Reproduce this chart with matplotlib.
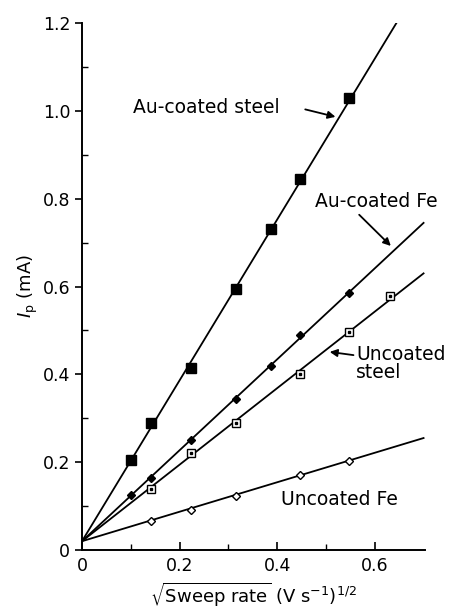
import matplotlib
matplotlib.use("Agg")
import matplotlib.pyplot as plt
import numpy as np

# sqrt(sweep rate) values
x_au_steel = [0.100, 0.141, 0.224, 0.316, 0.387, 0.447, 0.548]
y_au_steel = [0.205, 0.290, 0.415, 0.595, 0.730, 0.845, 1.030]

x_au_fe = [0.100, 0.141, 0.224, 0.316, 0.387, 0.447, 0.548]
y_au_fe = [0.125, 0.165, 0.250, 0.345, 0.420, 0.490, 0.585]

x_unc_steel = [0.141, 0.224, 0.316, 0.447, 0.548, 0.632]
y_unc_steel = [0.140, 0.220, 0.290, 0.400, 0.497, 0.578]

x_unc_fe = [0.141, 0.224, 0.316, 0.447, 0.548]
y_unc_fe = [0.065, 0.092, 0.122, 0.170, 0.202]

# fitted straight lines (start, end)
fit_au_steel_x = [0.0, 0.647]
fit_au_steel_y = [0.02, 1.205]
fit_au_fe_x = [0.0, 0.70]
fit_au_fe_y = [0.02, 0.745]
fit_unc_steel_x = [0.0, 0.70]
fit_unc_steel_y = [0.02, 0.630]
fit_unc_fe_x = [0.0, 0.70]
fit_unc_fe_y = [0.02, 0.255]

fig = plt.figure(figsize=(4.58, 6.08), dpi=100)
ax = fig.add_axes([0.179, 0.0954, 0.749, 0.8666])

lw = 1.3
ax.plot(fit_au_steel_x, fit_au_steel_y, color="k", lw=lw)
ax.plot(fit_au_fe_x, fit_au_fe_y, color="k", lw=lw)
ax.plot(fit_unc_steel_x, fit_unc_steel_y, color="k", lw=lw)
ax.plot(fit_unc_fe_x, fit_unc_fe_y, color="k", lw=lw)

ax.plot(x_au_steel, y_au_steel, "s", color="k", ms=6.5, zorder=3)
ax.plot(x_au_fe, y_au_fe, "D", color="k", ms=4.5, zorder=3)
ax.plot(x_unc_steel, y_unc_steel, "s", mfc="white", mec="k", mew=1.0, ms=6, zorder=3)
ax.plot(x_unc_steel, y_unc_steel, "s", color="k", ms=1.5, zorder=4)
ax.plot(x_unc_fe, y_unc_fe, "D", mfc="white", mec="k", mew=1.0, ms=4.5, zorder=3)

fs = 13.5
arr = dict(arrowstyle="-|>", color="k", lw=1.3, mutation_scale=11)
ax.text(0.105, 1.007, "Au-coated steel", fontsize=fs, va="center", ha="left")
ax.annotate("", xy=(0.525, 0.985), xytext=(0.452, 1.005), arrowprops=arr)
ax.text(0.477, 0.793, "Au-coated Fe", fontsize=fs, va="center", ha="left")
ax.annotate("", xy=(0.637, 0.688), xytext=(0.564, 0.768), arrowprops=arr)
ax.text(0.562, 0.468, "Uncoated\nsteel", fontsize=fs, va="top", ha="left",
        linespacing=0.95)
ax.annotate("", xy=(0.502, 0.452), xytext=(0.562, 0.443), arrowprops=arr)
ax.text(0.408, 0.114, "Uncoated Fe", fontsize=fs, va="center", ha="left")

ax.set_xlim(0, 0.703)
ax.set_ylim(0, 1.2)
ax.set_xticks([0, 0.2, 0.4, 0.6])
ax.set_xticklabels(["0", "0.2", "0.4", "0.6"])
ax.set_yticks([0, 0.2, 0.4, 0.6, 0.8, 1.0, 1.2])
ax.set_yticklabels(["0", "0.2", "0.4", "0.6", "0.8", "1.0", "1.2"])
ax.set_xticks(np.arange(0.1, 0.7, 0.2), minor=True)
ax.set_yticks(np.arange(0.1, 1.2, 0.2), minor=True)
tfs = 12.5
ax.tick_params(axis="x", which="major", direction="in", length=6, width=1.2, labelsize=tfs, pad=5)
ax.tick_params(axis="x", which="minor", direction="in", length=4, width=1.0)
ax.tick_params(axis="y", which="major", direction="out", length=5, width=1.2, labelsize=tfs)
ax.tick_params(axis="y", which="minor", direction="in", length=4, width=1.0)

for s in ["top", "right"]:
    ax.spines[s].set_visible(False)
for s in ["left", "bottom"]:
    ax.spines[s].set_linewidth(1.4)

ax.set_ylabel(r"$I_\mathrm{p}$ (mA)", fontsize=13, labelpad=2)
ax.set_xlabel(r"$\sqrt{\mathrm{Sweep\ rate}}\ (\mathrm{V\ s^{-1}})^{1/2}$", fontsize=13, labelpad=4)

fig.savefig("out.png", dpi=100)
